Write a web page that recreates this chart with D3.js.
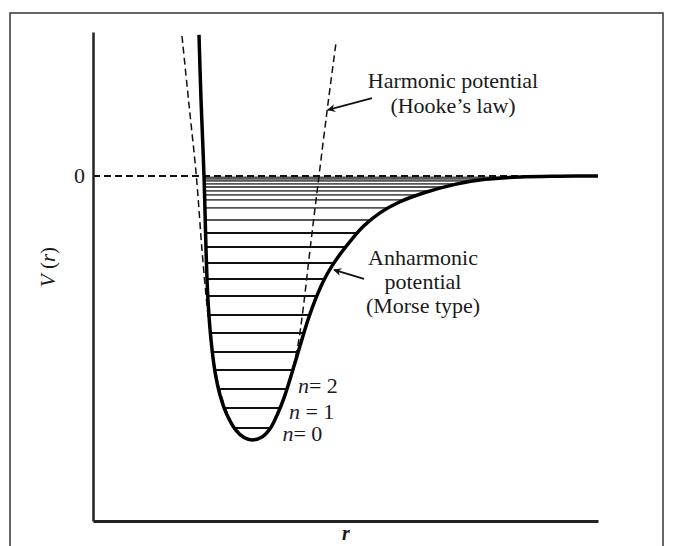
<!DOCTYPE html>
<html lang="en">
<head>
<meta charset="UTF-8">
<title>Morse vs harmonic potential</title>
<style>
  body { margin: 0; background: #fff; }
  svg text { font-family: "Liberation Serif", "DejaVu Serif", serif; fill: #1a1a1a; }
</style>
</head>
<body>
<svg width="675" height="546"></svg>
<script src="https://d3js.org/d3.v7.min.js"></script>
<script>
// Morse (anharmonic) curve (r in arbitrary units, V in units of well depth)
const morseR = [2.099, 2.139, 2.198, 2.238, 2.277, 2.337, 2.416, 2.515, 2.653, 2.832, 2.990, 3.149,
                3.347, 3.505, 3.663, 3.802, 3.921, 4.040, 4.158, 4.277, 4.416, 4.574, 4.733, 4.911,
                5.129, 5.366, 5.683, 6.079, 6.574, 7.168, 7.762, 8.455, 9.248, 10.0];
const morseV = [0.534, 0.288, 0, -0.280, -0.470, -0.621, -0.742, -0.830, -0.905, -0.964, -0.991, -1.0,
                -0.989, -0.958, -0.898, -0.830, -0.758, -0.682, -0.606, -0.534, -0.462, -0.394, -0.341, -0.292,
                -0.239, -0.189, -0.140, -0.098, -0.063, -0.032, -0.013, -0.004, -0.001, 0];

// harmonic (Hooke's law) parabola, dashed
const harmR = [1.762, 1.891, 2.046, 2.158, 2.257, 2.356, 2.475, 2.634, 2.832, 3.149,
               3.426, 3.624, 3.802, 3.941, 4.059, 4.158, 4.297, 4.475, 4.663, 4.812];
const harmV = [0.530, 0.288, 0, -0.280, -0.489, -0.652, -0.784, -0.886, -0.962, -1.0,
               -0.973, -0.909, -0.830, -0.742, -0.640, -0.508, -0.280, 0, 0.288, 0.504];

// vibrational levels
const levelV = [-0.955, -0.879, -0.807, -0.735, -0.667, -0.595, -0.527, -0.455, -0.390, -0.330, -0.269,
                -0.216, -0.167, -0.121, -0.091, -0.072, -0.057, -0.042, -0.030, -0.019, -0.011, -0.006];
const levelNames = ["0", "1", "2"];
const levelEq = ["= ", " = ", "= "];

const yTicks = [0];

const svg = d3.select("svg");
const x = d3.scaleLinear().domain([0, 10]).range([93, 598]);
const y = d3.scaleLinear().domain([-1.307, 0.545]).range([521, 32]);

// outer frame (cut at the bottom)
svg.append("rect")
  .attr("x", 10).attr("y", 13).attr("width", 653).attr("height", 560)
  .attr("fill", "none").attr("stroke", "#333").attr("stroke-width", 1.5);

const morse = morseR.map((r, i) => ({ r, v: morseV[i] }));
const harm = harmR.map((r, i) => ({ r, v: harmV[i] }));
const line = d3.line().x(d => x(d.r)).y(d => y(d.v)).curve(d3.curveCatmullRom);

// where a level cuts the left and right walls of the Morse curve
const iMin = d3.minIndex(morse, d => d.v);
function crossing(pts, v) {
  for (let i = 0; i < pts.length - 1; i++) {
    const a = pts[i], b = pts[i + 1];
    if ((a.v - v) * (b.v - v) <= 0 && a.v !== b.v) {
      return a.r + (v - a.v) / (b.v - a.v) * (b.r - a.r);
    }
  }
  return null;
}
const leftWall = morse.slice(0, iMin + 1);
const rightWall = morse.slice(iMin);
const levels = levelV.map(v => ({ v, r0: crossing(leftWall, v), r1: crossing(rightWall, v) }));

svg.append("g").selectAll("line").data(levels).join("line")
  .attr("x1", d => x(d.r0)).attr("x2", d => x(d.r1))
  .attr("y1", d => y(d.v)).attr("y2", d => y(d.v))
  .attr("stroke", d => d.v > -0.2 ? "#555" : "#111")
  .attr("stroke-width", d => d.v > -0.2 ? 1.8 : 2);

// zero line
svg.append("line")
  .attr("x1", x(0)).attr("x2", x(10)).attr("y1", y(0)).attr("y2", y(0))
  .attr("stroke", "#111").attr("stroke-width", 2).attr("stroke-dasharray", "7,4");

// harmonic
svg.append("path").datum(harm)
  .attr("d", line).attr("fill", "none")
  .attr("stroke", "#111").attr("stroke-width", 1.5).attr("stroke-dasharray", "7,4");

// Morse
svg.append("path").datum(morse)
  .attr("d", line).attr("fill", "none")
  .attr("stroke", "#000").attr("stroke-width", 3.5).attr("stroke-linejoin", "round");

// axes, spines only
const axisY = d3.axisLeft(y).tickValues(yTicks).tickSize(0).tickPadding(8).tickFormat(d3.format("d"));
const gy = svg.append("g").attr("transform", `translate(${x(0)},0)`).call(axisY);
gy.select(".domain").attr("stroke", "#222").attr("stroke-width", 2.5);
gy.selectAll("text").attr("font-family", "Liberation Serif").attr("font-size", 22).attr("fill", "#1a1a1a");

const axisX = d3.axisBottom(x).tickValues([]).tickSize(0);
const gx = svg.append("g").attr("transform", `translate(0,${y.range()[0]})`).call(axisX);
gx.select(".domain").attr("stroke", "#222").attr("stroke-width", 3);

// axis titles
svg.append("text")
  .attr("transform", "translate(55,267) rotate(-90)")
  .attr("text-anchor", "middle").attr("font-size", 21)
  .html('<tspan font-style="italic">V</tspan> (<tspan font-style="italic">r</tspan>)');
svg.append("text")
  .attr("x", 346).attr("y", 540).attr("text-anchor", "middle")
  .attr("font-size", 20).attr("font-style", "italic").attr("font-weight", "bold")
  .text("r");

// level labels n = 0, 1, 2
svg.append("g").selectAll("text").data(levels.slice(0, 3)).join("text")
  .attr("x", (d, i) => x(d.r1) + [12, 9, 11][i]).attr("y", (d, i) => y(d.v) + [13, 11, 4][i])
  .attr("font-size", 22)
  .html((d, i) => `<tspan font-style="italic" fill="#223">n</tspan>${levelEq[i]}${levelNames[i]}`);

// annotations with arrows
svg.append("defs").append("marker")
  .attr("id", "arr").attr("viewBox", "0 0 10 10").attr("refX", 9).attr("refY", 5)
  .attr("markerWidth", 11).attr("markerHeight", 8).attr("orient", "auto")
  .attr("markerUnits", "userSpaceOnUse")
  .append("path").attr("d", "M0,0 L10,5 L0,10 L3,5 Z").attr("fill", "#111");

function note(lines, cx, cy, lh, from, to) {
  const t = svg.append("text").attr("text-anchor", "middle").attr("font-size", 22);
  lines.forEach((s, i) => t.append("tspan").attr("x", cx).attr("y", cy + i * lh).text(s));
  svg.append("line")
    .attr("x1", x(from[0])).attr("y1", y(from[1]))
    .attr("x2", x(to[0])).attr("y2", y(to[1]))
    .attr("stroke", "#111").attr("stroke-width", 1.8).attr("marker-end", "url(#arr)");
}
note(["Harmonic potential", "(Hooke\u2019s law)"], 453, 88, 25, [5.525, 0.295], [4.653, 0.250]);
note(["Anharmonic", "potential", "(Morse type)"], 423, 265, 24, [5.366, -0.390], [4.772, -0.356]);
</script>
</body>
</html>
